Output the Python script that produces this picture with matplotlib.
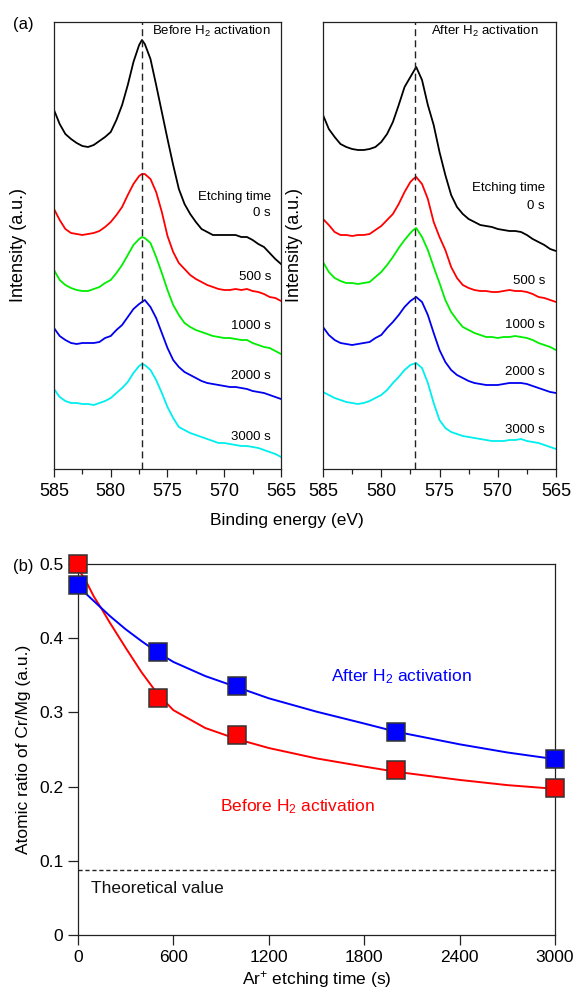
import matplotlib.pyplot as plt
import numpy as np

plt.rcParams['font.family'] = ['Liberation Sans', 'DejaVu Sans']
plt.rcParams['mathtext.fontset'] = 'custom'
plt.rcParams['mathtext.rm'] = 'Liberation Sans'
plt.rcParams['mathtext.it'] = 'Liberation Sans:italic'
plt.rcParams['mathtext.default'] = 'regular'

# (a) Cr 2p spectra, intensity in arbitrary units (offset stacked as in the figure)
energy = [585, 584.5, 584, 583.5, 583, 582.5, 582, 581.5, 581, 580.5, 580, 579.5,
          579, 578.5, 578, 577.5, 577.25, 577, 576.5, 576, 575.5, 575, 574.5, 574,
          573.5, 573, 572.5, 572, 571.5, 571, 570.5, 570, 569.5, 569, 568.5, 568,
          567.5, 567, 566.5, 566, 565.5, 565]

before_0s = [359, 345, 335, 330, 326, 323, 322, 324, 328, 332, 337, 349, 364, 384,
             407, 424, 429, 425, 410, 384, 357, 330, 304, 280, 265, 255, 247, 240,
             237, 234, 234, 234, 234, 234, 232, 232, 229, 225, 222, 216, 210, 205]
before_500s = [260, 249, 240, 236, 235, 234, 235, 236, 238, 242, 247, 254, 262, 274,
               285, 293, 295, 295, 290, 277, 257, 233, 217, 206, 200, 194, 190, 187,
               184, 182, 180, 179, 179, 180, 179, 180, 178, 177, 175, 172, 171, 168]
before_1000s = [199, 189, 184, 181, 179, 178, 178, 180, 182, 186, 189, 196, 204, 214,
                224, 230, 232, 231, 226, 212, 196, 179, 164, 154, 146, 142, 139, 137,
                135, 133, 132, 131, 131, 130, 129, 129, 126, 124, 122, 121, 118, 115]
before_2000s = [141, 133, 129, 126, 125, 126, 126, 126, 127, 131, 133, 139, 144, 152,
                160, 165, 167, 169, 162, 151, 136, 121, 109, 102, 97, 94, 91, 88,
                86, 85, 84, 83, 82, 82, 81, 80, 78, 77, 76, 74, 72, 70]
before_3000s = [80, 72, 68, 66, 66, 65, 65, 64, 66, 68, 71, 76, 81, 87,
                96, 103, 105, 104, 99, 89, 76, 62, 51, 42, 39, 36, 34, 32,
                30, 28, 26, 26, 25, 24, 23, 23, 22, 21, 19, 17, 15, 12]

after_0s = [354, 340, 332, 325, 322, 320, 319, 319, 320, 322, 327, 335, 347, 364,
            382, 392, 397, 402, 389, 364, 344, 317, 294, 274, 262, 255, 250, 247,
            244, 243, 242, 240, 239, 238, 238, 237, 234, 230, 227, 224, 220, 218]
after_500s = [250, 244, 237, 234, 234, 233, 234, 234, 235, 239, 243, 249, 255, 265,
              277, 287, 290, 292, 285, 270, 247, 232, 219, 202, 191, 184, 181, 179,
              178, 178, 177, 177, 178, 179, 178, 178, 177, 175, 172, 171, 169, 167]
after_1000s = [207, 197, 191, 188, 186, 186, 185, 186, 187, 192, 197, 204, 212, 221,
               229, 236, 239, 241, 232, 219, 202, 186, 169, 157, 149, 142, 139, 136,
               134, 132, 132, 131, 132, 132, 133, 132, 131, 129, 126, 124, 122, 119]
after_2000s = [142, 134, 129, 126, 125, 124, 125, 126, 127, 131, 134, 141, 147, 154,
               162, 168, 170, 172, 167, 154, 136, 119, 107, 99, 94, 91, 88, 86,
               85, 84, 84, 84, 85, 86, 86, 86, 85, 83, 81, 79, 77, 76]
after_3000s = [77, 74, 71, 69, 67, 66, 65, 66, 68, 71, 74, 79, 86, 92,
               99, 104, 105, 106, 101, 86, 66, 49, 41, 37, 35, 33, 32, 31,
               30, 29, 28, 28, 28, 29, 29, 30, 28, 27, 26, 24, 22, 20]

etch_labels = ['0 s', '500 s', '1000 s', '2000 s', '3000 s']
spec_colors = ['#000000', '#ff0000', '#00ee00', '#0000ee', '#00eeee']
peak_before = 577.25
peak_after = 577.1

# (b) Cr/Mg atomic ratio vs etching time
etch_time = [0, 500, 1000, 2000, 3000]
ratio_before = [0.500, 0.320, 0.270, 0.223, 0.198]
ratio_after = [0.472, 0.381, 0.336, 0.273, 0.237]
theoretical = 0.088

# fitted curves
fit_t_before = [0, 50, 100, 150, 200, 300, 400, 500, 600, 800, 1000, 1200, 1500,
                1800, 2000, 2400, 2700, 3000]
fit_before = [0.494, 0.477, 0.456, 0.439, 0.421, 0.387, 0.354, 0.325, 0.303, 0.279,
              0.264, 0.252, 0.238, 0.227, 0.220, 0.209, 0.202, 0.197]
fit_t_after = [0, 100, 200, 300, 400, 500, 600, 800, 1000, 1200, 1500, 1800, 2000,
               2400, 2700, 3000]
fit_after = [0.470, 0.450, 0.430, 0.412, 0.396, 0.381, 0.368, 0.349, 0.334, 0.319,
             0.301, 0.285, 0.274, 0.257, 0.246, 0.237]

fig = plt.figure(figsize=(5.74, 9.97), dpi=100)
W, H = 574.0, 997.0

ax1 = fig.add_axes([54 / W, 1 - 469 / H, 227 / W, 447 / H])
ax2 = fig.add_axes([323 / W, 1 - 469 / H, 233 / W, 447 / H])

panels = [
    (ax1, [before_0s, before_500s, before_1000s, before_2000s, before_3000s], peak_before,
     'Before H$_2$ activation', 0.956, 0.956, [0.608, 0.573, 0.430, 0.320, 0.208, 0.072], -0.119),
    (ax2, [after_0s, after_500s, after_1000s, after_2000s, after_3000s], peak_after,
     'After H$_2$ activation', 0.927, 0.953, [0.628, 0.589, 0.421, 0.322, 0.217, 0.087], -0.086),
]

for ax, curves, peak, title, tx, lx, ly, ylab_x in panels:
    for c, col in zip(curves, spec_colors):
        ax.plot(energy, c, color=col, lw=1.3)
    ax.axvline(peak, color='#222222', lw=1.0, dashes=(5, 3))
    ax.set_xlim(585, 565)
    ax.set_ylim(0, 447)
    ax.set_xticks([585, 580, 575, 570, 565])
    ax.set_xticks([582.5, 577.5, 572.5, 567.5], minor=True)
    ax.set_yticks([])
    ax.tick_params(axis='x', direction='out', length=6, width=0.9, labelsize=13, pad=4,
                   color='#222222')
    ax.tick_params(axis='x', which='minor', direction='out', length=3.5, width=0.9,
                   color='#222222')
    for s in ax.spines.values():
        s.set_linewidth(0.9)
        s.set_color('#222222')
    ax.set_ylabel('Intensity (a.u.)', fontsize=13)
    ax.yaxis.set_label_coords(ylab_x, 0.5)
    ax.text(tx, 0.978, title, transform=ax.transAxes, ha='right', va='center', fontsize=9.5)
    ax.text(lx, ly[0], 'Etching time', transform=ax.transAxes, ha='right', va='center',
            fontsize=9.5)
    for lab, yy in zip(etch_labels, ly[1:]):
        ax.text(lx, yy, lab, transform=ax.transAxes, ha='right', va='center', fontsize=9.5)

fig.text(287 / W, 1 - 521 / H, 'Binding energy (eV)', ha='center', va='center', fontsize=12.5)
fig.text(13 / W, 1 - 24 / H, '(a)', ha='left', va='center', fontsize=12)

# (b)
ax3 = fig.add_axes([78 / W, 1 - 935 / H, 477 / W, 371 / H])
ax3.plot(fit_t_before, fit_before, color='#ff0000', lw=1.4, zorder=3, clip_on=False)
ax3.plot(fit_t_after, fit_after, color='#0000ff', lw=1.4, zorder=3, clip_on=False)
ax3.plot(etch_time, ratio_before, ls='none', marker='s', ms=13.5, mfc='#ff0000',
         mec='#333333', mew=1.1, zorder=5, clip_on=False)
ax3.plot(etch_time, ratio_after, ls='none', marker='s', ms=13.5, mfc='#0000ff',
         mec='#333333', mew=1.1, zorder=6, clip_on=False)
ax3.axhline(theoretical, color='#222222', lw=1.0, dashes=(3, 2))
ax3.set_xlim(0, 3000)
ax3.set_ylim(0, 0.5)
ax3.set_xticks([0, 600, 1200, 1800, 2400, 3000])
ax3.set_yticks([0, 0.1, 0.2, 0.3, 0.4, 0.5])
ax3.set_yticklabels(['0', '0.1', '0.2', '0.3', '0.4', '0.5'])
ax3.tick_params(direction='out', length=7, width=0.9, labelsize=12.5, color='#222222')
for s in ax3.spines.values():
    s.set_linewidth(0.9)
    s.set_color('#222222')
ax3.set_xlabel('Ar$^{+}$ etching time (s)', fontsize=12.5, labelpad=3)
ax3.set_ylabel('Atomic ratio of Cr/Mg (a.u.)', fontsize=12.5, labelpad=6)
ax3.text(1594, 0.348, 'After H$_2$ activation', color='#0000ff', fontsize=12.5,
         ha='left', va='center')
ax3.text(891, 0.173, 'Before H$_2$ activation', color='#ff0000', fontsize=12.5,
         ha='left', va='center')
ax3.text(82, 0.062, 'Theoretical value', color='#111111', fontsize=12.5,
         ha='left', va='center')
fig.text(13 / W, 1 - 566 / H, '(b)', ha='left', va='center', fontsize=12)

fig.savefig('out.png', dpi=100)
